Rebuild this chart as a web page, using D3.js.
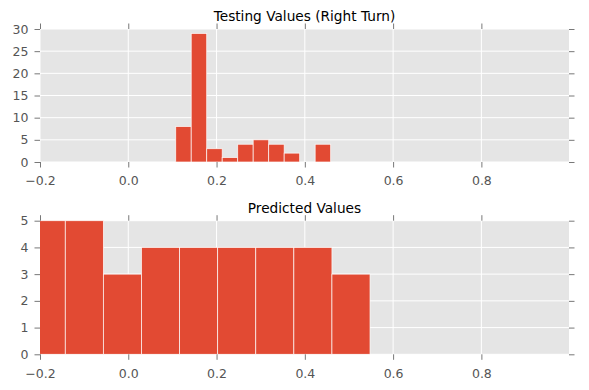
<!DOCTYPE html>
<html>
<head>
<meta charset="utf-8">
<script src="https://cdn.jsdelivr.net/npm/d3@7"></script>
<style>
  html, body { margin: 0; padding: 0; background: #fff; }
  svg { display: block; }
  text { font-family: "DejaVu Sans", sans-serif; }
</style>
</head>
<body>
<svg id="chart" width="589" height="390"></svg>
<script>
// ---- data ----
const topTitle = "Testing Values (Right Turn)";
const topBinEdges = [0.1075, 0.1426, 0.1777, 0.2128, 0.2479, 0.2830, 0.3181, 0.3532, 0.3883, 0.4234, 0.4585];
const topCounts = [8, 29, 3, 1, 4, 5, 4, 2, 0, 4];
const topYTicks = [0, 5, 10, 15, 20, 25, 30];

const bottomTitle = "Predicted Values";
const bottomBinEdges = [-0.229, -0.1427, -0.0564, 0.0299, 0.1162, 0.2025, 0.2888, 0.3751, 0.4614, 0.5477];
const bottomCounts = [5, 5, 3, 4, 4, 4, 4, 4, 3];
const bottomYTicks = [0, 1, 2, 3, 4, 5];

const xTicks = [-0.2, 0.0, 0.2, 0.4, 0.6, 0.8];
const xDomain = [-0.2, 0.9985];

// ---- drawing ----
const svg = d3.select("#chart");
const barColor = "#E24A33";
const bgColor = "#E5E5E5";
const tickColor = "#555555";

function panel(opts) {
  const { left, right, top, bottom, yMax, yTicks, edges, counts, title, id } = opts;
  const x = d3.scaleLinear().domain(xDomain).range([left, right]);
  const y = d3.scaleLinear().domain([0, yMax]).range([bottom, top]);
  const g = svg.append("g");

  g.append("rect").attr("x", left).attr("y", top)
    .attr("width", right - left).attr("height", bottom - top)
    .attr("fill", bgColor);

  // grid
  g.append("g").selectAll("line.v").data(xTicks).join("line")
    .attr("x1", d => x(d)).attr("x2", d => x(d))
    .attr("y1", top).attr("y2", bottom)
    .attr("stroke", "#fff").attr("stroke-width", 1);
  g.append("g").selectAll("line.h").data(yTicks).join("line")
    .attr("x1", left).attr("x2", right)
    .attr("y1", d => y(d)).attr("y2", d => y(d))
    .attr("stroke", "#fff").attr("stroke-width", 1);

  // clip
  svg.append("defs").append("clipPath").attr("id", id)
    .append("rect").attr("x", left).attr("y", top - 1)
    .attr("width", right - left).attr("height", bottom - top + 1);

  const bins = counts.map((c, i) => ({ x0: edges[i], x1: edges[i + 1], c }));
  g.append("g").attr("clip-path", `url(#${id})`)
    .selectAll("rect").data(bins.filter(b => b.c > 0)).join("rect")
    .attr("x", d => x(d.x0)).attr("width", d => x(d.x1) - x(d.x0))
    .attr("y", d => y(d.c)).attr("height", d => y(0) - y(d.c))
    .attr("fill", barColor)
    .attr("stroke", "#fff").attr("stroke-width", 0.8).attr("stroke-opacity", 0.85);

  const fmt = d3.format(".1f");
  // axes
  const ax = [
    g.append("g").attr("transform", `translate(0,${bottom})`)
      .call(d3.axisBottom(x).tickValues(xTicks).tickFormat(fmt).tickSize(5.5).tickPadding(9)),
    g.append("g").attr("transform", `translate(0,${top})`)
      .call(d3.axisTop(x).tickValues(xTicks).tickFormat("").tickSize(5.5)),
    g.append("g").attr("transform", `translate(${left},0)`)
      .call(d3.axisLeft(y).tickValues(yTicks).tickFormat(d3.format("d")).tickSize(5.5).tickPadding(6)),
    g.append("g").attr("transform", `translate(${right},0)`)
      .call(d3.axisRight(y).tickValues(yTicks).tickFormat("").tickSize(5.5))
  ];
  ax.forEach(a => {
    a.select(".domain").remove();
    a.selectAll("line").attr("stroke", tickColor).attr("stroke-width", 0.8);
    a.selectAll("text").attr("fill", tickColor)
      .style("font-family", "'DejaVu Sans', sans-serif").style("font-size", "12.5px");
  });

  g.append("text").attr("x", (left + right) / 2).attr("y", top - 8)
    .attr("text-anchor", "middle").attr("fill", "#000")
    .style("font-size", "13.7px").text(title);
}

panel({ left: 40, right: 569, top: 29, bottom: 162, yMax: 30, yTicks: topYTicks,
        edges: topBinEdges, counts: topCounts, title: topTitle, id: "clipTop" });
panel({ left: 40, right: 569, top: 220.7, bottom: 354.3, yMax: 5, yTicks: bottomYTicks,
        edges: bottomBinEdges, counts: bottomCounts, title: bottomTitle, id: "clipBottom" });
</script>
</body>
</html>
